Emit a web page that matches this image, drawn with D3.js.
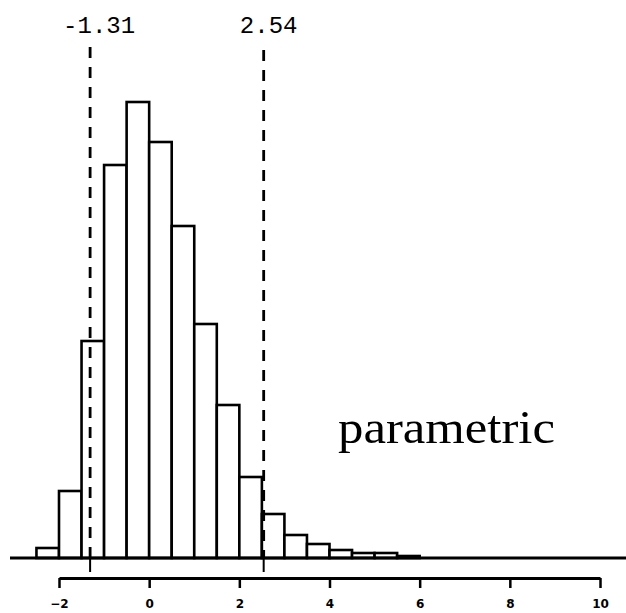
<!DOCTYPE html>
<html>
<head>
<meta charset="utf-8">
<script src="https://cdn.jsdelivr.net/npm/d3@7"></script>
<style>
  body { margin: 0; background: #fff; }
  svg { display: block; }
</style>
</head>
<body>
<svg width="626" height="613"></svg>
<script>
// histogram bins (left edge, width 0.5) and bar heights
var binStarts = [-2.5, -2, -1.5, -1, -0.5, 0, 0.5, 1, 1.5, 2, 2.5, 3, 3.5, 4, 4.5, 5, 5.5];
var counts = [10, 67, 217, 393, 456, 416, 332, 234, 153, 81, 44, 23, 14, 8, 5, 5, 2];
var binWidth = 0.5;

// interval cut-offs
var cutoffs = [-1.31, 2.54];
var cutoffLabels = ["-1.31", "2.54"];

var tickValues = [-2, 0, 2, 4, 6, 8, 10];
var title = "parametric";

var svg = d3.select('svg');

var x = d3.scaleLinear()
    .domain([-2, 10])
    .range([59, 600]);

var y = d3.scaleLinear()
    .domain([0, 456])
    .range([558, 102]);

var bars = binStarts.map(function(d, i) {
    return {x0: d, x1: d + binWidth, n: counts[i]};
});

svg.selectAll('rect.bar')
    .data(bars)
    .enter()
    .append('rect')
    .attr('class', 'bar')
    .attr('x', function(d) { return x(d.x0); })
    .attr('y', function(d) { return y(d.n); })
    .attr('width', function(d) { return x(d.x1) - x(d.x0); })
    .attr('height', function(d) { return y(0) - y(d.n); })
    .attr('fill', '#fff')
    .attr('stroke', '#000')
    .attr('stroke-width', 2.6);

// baseline
svg.append('line')
    .attr('x1', 10).attr('x2', 626)
    .attr('y1', y(0)).attr('y2', y(0))
    .attr('stroke', '#000')
    .attr('stroke-width', 3);

// dashed cut-off lines
var tops = [47, 50];
svg.selectAll('line.cut')
    .data(cutoffs)
    .enter()
    .append('line')
    .attr('class', 'cut')
    .attr('x1', function(d) { return x(d); })
    .attr('x2', function(d) { return x(d); })
    .attr('y1', function(d, i) { return tops[i]; })
    .attr('y2', y(0))
    .attr('stroke', '#000')
    .attr('stroke-width', 2.8)
    .attr('stroke-dasharray', '11,9');

// small ticks below the baseline
svg.selectAll('line.cuttick')
    .data(cutoffs)
    .enter()
    .append('line')
    .attr('class', 'cuttick')
    .attr('x1', function(d) { return x(d); })
    .attr('x2', function(d) { return x(d); })
    .attr('y1', y(0))
    .attr('y2', y(0) + 14)
    .attr('stroke', '#000')
    .attr('stroke-width', 2);

var labelDx = [9, 5];
svg.selectAll('text.cutlab')
    .data(cutoffLabels)
    .enter()
    .append('text')
    .attr('class', 'cutlab')
    .attr('x', function(d, i) { return x(cutoffs[i]) + labelDx[i]; })
    .attr('y', 33)
    .attr('text-anchor', 'middle')
    .style('font-family', '"Liberation Mono", "DejaVu Sans Mono", monospace')
    .style('font-size', '24px')
    .text(function(d) { return d; });

// x axis
var axis = d3.axisBottom(x)
    .tickValues(tickValues)
    .tickSize(10)
    .tickSizeOuter(0)
    .tickPadding(11)
    .tickFormat(d3.format('d'));

var gx = svg.append('g')
    .attr('transform', 'translate(0,578)')
    .call(axis);

gx.select('.domain')
    .attr('stroke-width', 3);
gx.selectAll('.tick line')
    .attr('stroke-width', 2.5);
gx.selectAll('.tick text')
    .style('font-family', '"DejaVu Sans", sans-serif')
    .style('font-weight', 'bold')
    .style('font-size', '12px');

svg.append('text')
    .attr('x', 338)
    .attr('y', 443)
    .attr('textLength', 217)
    .attr('lengthAdjust', 'spacingAndGlyphs')
    .style('font-family', '"Liberation Serif", serif')
    .style('font-size', '46px')
    .text(title);
</script>
</body>
</html>
